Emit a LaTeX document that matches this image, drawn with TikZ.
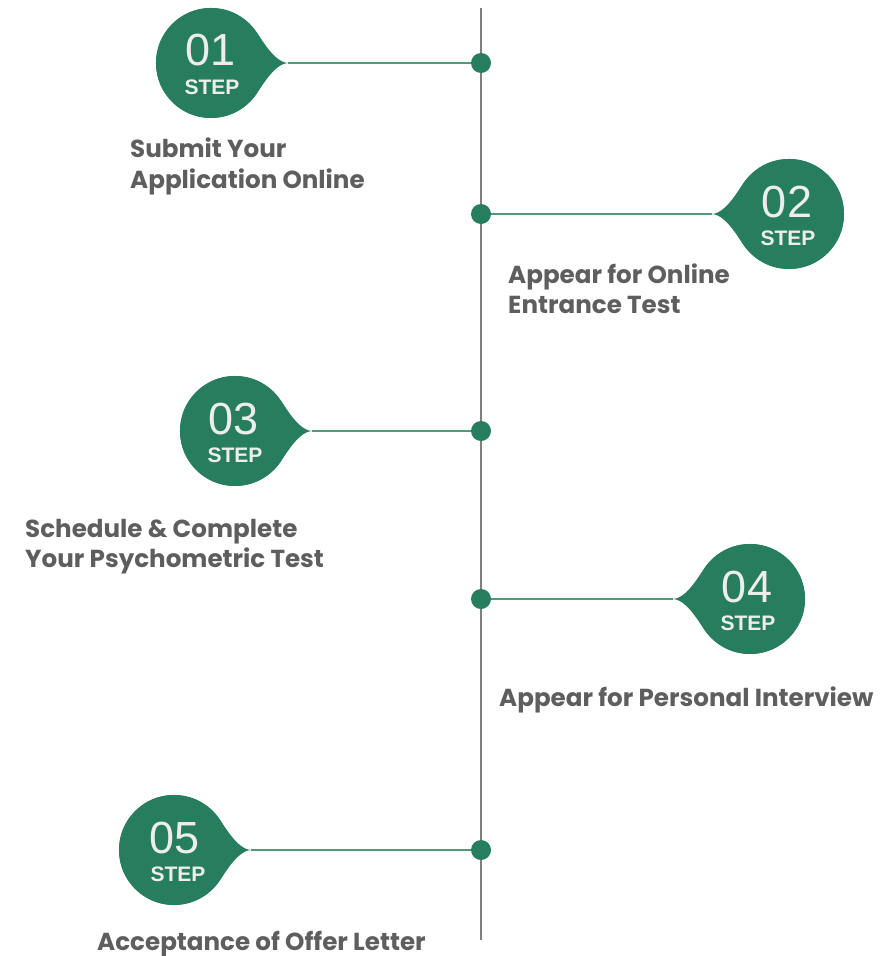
\documentclass[tikz,border=0pt]{standalone}
\usepackage{fontspec}
\setmainfont{Poppins}
\newfontfamily\numfont{Liberation Sans}
\definecolor{stepgreen}{HTML}{277E5E}
\definecolor{linkgreen}{HTML}{4C9C78}
\definecolor{axisgray}{HTML}{7F7F7F}
\definecolor{labelgray}{HTML}{5E5E5E}
\definecolor{numwhite}{HTML}{EDEDED}
\tikzset{
  stepcircle/.style={circle, fill=stepgreen, draw=none, minimum size=110pt, inner sep=0pt},
  stepnum/.style={anchor=base, inner sep=0pt, text=numwhite, font=\numfont\fontsize{45}{45}\selectfont},
  steptag/.style={anchor=base, inner sep=0pt, text=numwhite, font=\numfont\bfseries\fontsize{21}{21}\selectfont},
  steplabel/.style={anchor=base west, inner sep=0pt, text=labelgray, font=\bfseries\fontsize{24.6}{30}\selectfont},
  dotnode/.style={circle, fill=stepgreen, draw=none, minimum size=20pt, inner sep=0pt},
  link/.style={draw=linkgreen, line width=2pt},
  axisline/.style={draw=axisgray, line width=2pt},
}
% tip of the teardrop: centre x, centre y, direction (1 right, -1 left)
\newcommand{\droptip}[3]{%
  \fill[stepgreen, shift={(#1,#2)}, xscale=#3]
    (77,0) .. controls (62,-1) and (49.8,-26.2) .. (42.1,-35.4)
    arc[start angle=-40, end angle=-320, radius=55]
    .. controls (49.8,26.2) and (62,1) .. (77,0) -- cycle;}
\begin{document}
\begin{tikzpicture}[x=1pt,y=-1pt]
\useasboundingbox (0,0) rectangle (880,956);
% axis
\coordinate (axtop) at (481,8);
\coordinate (axbot) at (481,940);
\draw[axisline] (axtop) -- (axbot);
% teardrops
\droptip{211}{63}{1}
\droptip{789}{214}{-1}
\droptip{235}{431}{1}
\droptip{750}{599}{-1}
\droptip{174}{850}{1}
\node[stepcircle] (c1) at (211,63) {};
\node[stepcircle] (c2) at (789,214) {};
\node[stepcircle] (c3) at (235,431) {};
\node[stepcircle] (c4) at (750,599) {};
\node[stepcircle] (c5) at (174,850) {};
% tips
\coordinate (t1) at (288,63);
\coordinate (t2) at (712,214);
\coordinate (t3) at (312,431);
\coordinate (t4) at (673,599);
\coordinate (t5) at (251,850);
% dots
\node[dotnode] (d1) at (481,63) {};
\node[dotnode] (d2) at (481,214) {};
\node[dotnode] (d3) at (481,431) {};
\node[dotnode] (d4) at (481,599) {};
\node[dotnode] (d5) at (481,850) {};
\draw[link] (t1) -- (d1);
\draw[link] (t2) -- (d2);
\draw[link] (t3) -- (d3);
\draw[link] (t4) -- (d4);
\draw[link] (t5) -- (d5);
% numbers
\node[stepnum] (n1) at (211,65) {01};
\node[steptag] (g1) at (212,94) {STEP};
\node[stepnum] (n2) at (787,217) {02};
\node[steptag] (g2) at (788,245) {STEP};
\node[stepnum] (n3) at (234,434) {03};
\node[steptag] (g3) at (235,462) {STEP};
\node[stepnum] (n4) at (747,602) {04};
\node[steptag] (g4) at (748,630) {STEP};
\node[stepnum] (n5) at (175,853) {05};
\node[steptag] (g5) at (178,881) {STEP};
% labels
\node[steplabel] (l1a) at (130,157) {Submit Your};
\node[steplabel] (l1b) at (130,188) {Application Online};
\node[steplabel] (l2a) at (508,283) {Appear for Online};
\node[steplabel] (l2b) at (508,313) {Entrance Test};
\node[steplabel] (l3a) at (25,537) {Schedule \& Complete};
\node[steplabel] (l3b) at (25,567) {Your Psychometric Test};
\node[steplabel] (l4) at (499,706) {Appear for Personal Interview};
\node[steplabel] (l5) at (97,950) {Acceptance of Offer Letter};
\end{tikzpicture}
\end{document}
